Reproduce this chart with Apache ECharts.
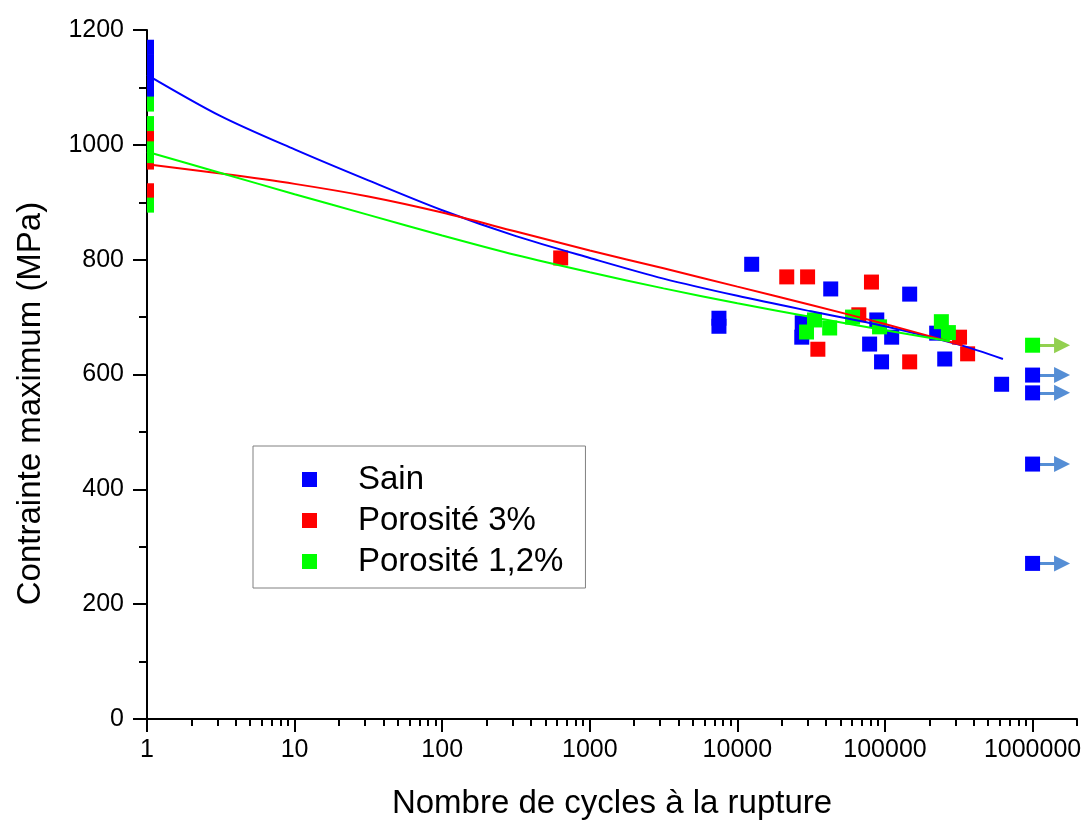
<!DOCTYPE html>
<html>
<head>
<meta charset="utf-8">
<script src="https://cdn.jsdelivr.net/npm/echarts@6/dist/echarts.min.js"></script>
<style>
  html, body { margin: 0; padding: 0; background: #fff; }
  #chart { width: 1091px; height: 824px; }
</style>
</head>
<body>
<div id="chart"></div>
<script>
// cycles to failure / max stress (MPa)
var sainCycles = [1, 1, 1, 1, 7500, 7500, 12500, 27300, 27500, 42900, 78700, 88000, 94800, 111000, 147000, 224000, 254000, 617000];
var sainStress = [1170, 1145, 1120, 1096, 698, 684, 792, 665, 690, 749, 653, 695, 622, 665, 740, 672, 627, 583];
var sainRunoutCycles = [1000000, 1000000, 1000000, 1000000];
var sainRunoutStress = [599, 568, 444, 271];

var por3Cycles = [1, 1, 1, 635, 21600, 29900, 35100, 66500, 81000, 147000, 320000, 363000];
var por3Stress = [1012, 970, 920, 803, 770, 770, 644, 704, 761, 622, 665, 636];

var por12Cycles = [1, 1, 1, 1, 1, 29400, 33300, 42200, 60300, 91900, 241000, 269000];
var por12Stress = [1071, 1037, 993, 981, 895, 674, 695, 681, 700, 683, 692, 673];
var por12RunoutCycles = [1000000];
var por12RunoutStress = [651];

// fitted curves, every half decade
var sainFitCycles = [1, 3.16, 10, 31.6, 100, 316, 1000, 3160, 10000, 31600, 100000, 316000, 630000];
var sainFitStress = [1122, 1050, 992, 938, 886, 841, 803, 767, 737, 710, 684, 652, 627];
var por3FitCycles = [1, 3.16, 10, 31.6, 100, 316, 1000, 3160, 10000, 31600, 100000, 335000];
var por3FitStress = [966, 950, 932, 910, 882, 849, 816, 785, 753, 721, 688, 651];
var por12FitCycles = [1, 3.16, 10, 31.6, 100, 316, 1000, 3160, 10000, 31600, 100000, 275000];
var por12FitStress = [988, 951, 914, 878, 842, 808, 778, 750, 724, 700, 677, 658];

var xTickExponents = [0, 1, 2, 3, 4, 5, 6];
var xMaxCycles = 2000000;

var FONT = '"Liberation Sans", Arial, sans-serif';
var xMax = Math.log10(xMaxCycles);
var arrowSpan = 0.2; // arrow length in decades

// minor ticks of the log axis (2..9 of each decade)
var minorTicks = [];
for (var d = 0; d < 7; d++) {
    for (var k = 2; k <= 9; k++) {
        var v = d + Math.log10(k);
        if (v <= xMax + 1e-9) minorTicks.push(v);
    }
}

function points(cycles, stress) {
    return cycles.map(function (n, i) {
        var item = { value: [Math.log10(n), stress[i]] };
        if (n === 1) {
            // only the right half shows against the y axis
            item.symbolSize = [7, 15];
            item.symbolOffset = [3.5, 0];
        }
        return item;
    });
}
function curve(cycles, stress) {
    return cycles.map(function (n, i) { return [Math.log10(n), stress[i]]; });
}
function arrows(cycles, stress) {
    return cycles.map(function (n, i) {
        var x = Math.log10(n);
        return { coords: [[x, stress[i]], [x + arrowSpan, stress[i]]] };
    });
}

var chart = echarts.init(document.getElementById('chart'));

var option = {
    animation: false,
    backgroundColor: '#fff',
    textStyle: { fontFamily: FONT },
    grid: [
        { left: 147, right: 14, top: 30, bottom: 105, outerBoundsMode: 'none' },
        { left: 147, right: 14, top: 30, bottom: 105, outerBoundsMode: 'none' }
    ],
    legend: {
        data: ['Sain', 'Porosité 3%', 'Porosité 1,2%'],
        orient: 'vertical',
        left: 253,
        top: 446,
        padding: [17, 22, 10, 49],
        itemGap: 8,
        itemWidth: 15,
        itemHeight: 15,
        icon: 'rect',
        borderColor: '#808080',
        borderWidth: 1,
        textStyle: { fontFamily: FONT, fontSize: 33, color: '#000', lineHeight: 33, padding: [0, 0, 0, 36] }
    },
    xAxis: [{
        type: 'value',
        gridIndex: 0,
        min: 0,
        max: xMax,
        interval: 1,
        name: 'Nombre de cycles à la rupture',
        nameLocation: 'middle',
        nameGap: 68,
        nameTextStyle: { fontFamily: FONT, fontSize: 33, color: '#000' },
        axisLine: { onZero: false, lineStyle: { color: '#000', width: 2 } },
        axisTick: { customValues: xTickExponents, length: 13, lineStyle: { color: '#000', width: 2 } },
        axisLabel: {
            customValues: xTickExponents,
            margin: 19,
            fontFamily: FONT,
            fontSize: 25,
            color: '#000',
            formatter: function (v) { return String(Math.round(Math.pow(10, v))); }
        },
        splitLine: { show: false }
    }, {
        type: 'value',
        gridIndex: 1,
        min: 0,
        max: xMax,
        interval: 1,
        axisLine: { show: false, onZero: false },
        axisTick: { customValues: minorTicks, length: 7, lineStyle: { color: '#000', width: 2 } },
        axisLabel: { show: false },
        splitLine: { show: false }
    }],
    yAxis: [{
        type: 'value',
        gridIndex: 0,
        min: 0,
        max: 1200,
        interval: 200,
        name: 'Contrainte maximum (MPa)',
        nameLocation: 'middle',
        nameGap: 100,
        nameTextStyle: { fontFamily: FONT, fontSize: 33, color: '#000', padding: [0, 58, 0, 0] },
        axisLine: { show: true, onZero: false, lineStyle: { color: '#000', width: 2 } },
        axisTick: { show: true, length: 14, lineStyle: { color: '#000', width: 2 } },
        minorTick: { show: true, splitNumber: 2, length: 8, lineStyle: { color: '#000', width: 2 } },
        axisLabel: {
            margin: 23, fontFamily: FONT, fontSize: 25, color: '#000',
            formatter: function (v) { return String(v); }
        },
        splitLine: { show: false }
    }, {
        type: 'value',
        gridIndex: 1,
        min: 0,
        max: 1200,
        show: false
    }],
    series: [
        {
            name: 'Sain arrows', type: 'lines', coordinateSystem: 'cartesian2d',
            xAxisIndex: 0, yAxisIndex: 0, z: 1,
            symbol: ['none', 'triangle'], symbolSize: 16,
            lineStyle: { color: '#558ed5', width: 3, opacity: 1 },
            data: arrows(sainRunoutCycles, sainRunoutStress)
        },
        {
            name: 'Porosité 1,2% arrows', type: 'lines', coordinateSystem: 'cartesian2d',
            xAxisIndex: 0, yAxisIndex: 0, z: 1,
            symbol: ['none', 'triangle'], symbolSize: 16,
            lineStyle: { color: '#92d050', width: 3, opacity: 1 },
            data: arrows(por12RunoutCycles, por12RunoutStress)
        },
        {
            name: 'Sain', type: 'scatter', symbol: 'rect', symbolSize: 15, z: 2,
            itemStyle: { color: '#0000ff', opacity: 1 },
            data: points(sainCycles.concat(sainRunoutCycles), sainStress.concat(sainRunoutStress))
        },
        {
            name: 'Porosité 3%', type: 'scatter', symbol: 'rect', symbolSize: 15, z: 2,
            itemStyle: { color: '#ff0000', opacity: 1 },
            data: points(por3Cycles, por3Stress)
        },
        {
            name: 'Porosité 1,2%', type: 'scatter', symbol: 'rect', symbolSize: 15, z: 2,
            itemStyle: { color: '#00ff00', opacity: 1 },
            data: points(por12Cycles.concat(por12RunoutCycles), por12Stress.concat(por12RunoutStress))
        },
        {
            name: 'Sain fit', type: 'line', smooth: 0.3, showSymbol: false, z: 3,
            lineStyle: { color: '#0000ff', width: 2 }, itemStyle: { color: '#0000ff' },
            data: curve(sainFitCycles, sainFitStress)
        },
        {
            name: 'Porosité 3% fit', type: 'line', smooth: 0.3, showSymbol: false, z: 3,
            lineStyle: { color: '#ff0000', width: 2 }, itemStyle: { color: '#ff0000' },
            data: curve(por3FitCycles, por3FitStress)
        },
        {
            name: 'Porosité 1,2% fit', type: 'line', smooth: 0.3, showSymbol: false, z: 3,
            lineStyle: { color: '#00ff00', width: 2 }, itemStyle: { color: '#00ff00' },
            data: curve(por12FitCycles, por12FitStress)
        }
    ]
};

chart.setOption(option);
</script>
</body>
</html>
